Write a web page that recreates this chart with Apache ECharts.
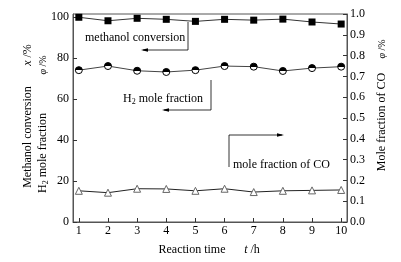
<!DOCTYPE html>
<html lang="en">
<head>
    <meta charset="UTF-8">
    <title>Reaction time</title>
    <script src="https://cdn.jsdelivr.net/npm/echarts@6/dist/echarts.min.js"></script>
    <style>
        html, body { margin: 0; padding: 0; background: #fff; }
    </style>
</head>
<body>
    <div id="main" style="width: 401px; height: 262px;"></div>
    <script>
        // data
        const hours = [1, 2, 3, 4, 5, 6, 7, 8, 9, 10];
        const methanolConversion = [99.9, 98.2, 99.4, 98.9, 97.9, 98.9, 98.5, 99.0, 97.6, 96.6];
        const h2Fraction = [74.1, 76.1, 73.8, 73.2, 74.1, 76.1, 75.8, 73.7, 75.1, 75.8];
        const coFraction = [0.150, 0.141, 0.160, 0.159, 0.150, 0.160, 0.144, 0.150, 0.152, 0.154];
        const leftTicks = [0, 20, 40, 60, 80, 100];

        const font = 'Liberation Serif';
        const pairs = (ys) => hours.map((h, i) => [h, ys[i]]);

        var myChart = echarts.init(document.getElementById('main'));

        // arrow helper for the annotations
        function arrow(points, dir) {
            const end = points[points.length - 1];
            const d = dir === 'left' ? -1 : 1;
            return [
                { type: 'polyline', shape: { points: points }, style: { stroke: '#000', lineWidth: 0.8, fill: null }, silent: true },
                { type: 'polygon', shape: { points: [[end[0] + d * 2, end[1]], [end[0] - d * 5, end[1] - 1.8], [end[0] - d * 5, end[1] + 1.8]] }, style: { fill: '#000' }, silent: true }
            ];
        }

        const txt = { fontFamily: font, fontSize: 12, fill: '#000' };
        // rich styles: normal, italic, subscript
        const rich = {
            a: { fontFamily: font, fontSize: 12, fill: '#000' },
            i: { fontFamily: font, fontSize: 12, fill: '#000', fontStyle: 'italic' },
            si: { fontFamily: font, fontSize: 10, fill: '#000', fontStyle: 'italic' },
            sa: { fontFamily: font, fontSize: 10, fill: '#000' },
            s: { fontFamily: font, fontSize: 8, fill: '#000', padding: [6, 0, 0, 0] }
        };
        function rtext(text, x, y, rot, align) {
            return {
                type: 'text', x: x, y: y, rotation: rot || 0,
                style: { text: text, textAlign: align || 'center', textVerticalAlign: 'middle', rich: rich }
            };
        }

        let option = {
            animation: false,
            grid: { left: 73, right: 54, top: 14, bottom: 40, show: true, borderColor: '#555', borderWidth: 1 },
            xAxis: {
                type: 'value',
                min: 0.8,
                max: 10.2,
                splitLine: { show: false },
                axisLine: { lineStyle: { color: '#555' } },
                axisTick: { inside: true, length: 4, customValues: hours, lineStyle: { color: '#333' } },
                axisLabel: { customValues: hours, color: '#000', fontFamily: font, fontSize: 12, margin: 3 }
            },
            yAxis: [
                {
                    type: 'value',
                    min: 0,
                    max: 101.5,
                    splitLine: { show: false },
                    axisLine: { show: true, lineStyle: { color: '#555' } },
                    axisTick: { inside: true, length: 4, customValues: leftTicks, lineStyle: { color: '#333' } },
                    axisLabel: { customValues: leftTicks, color: '#000', fontFamily: font, fontSize: 12, margin: 4 }
                },
                {
                    type: 'value',
                    min: 0,
                    max: 1,
                    interval: 0.1,
                    position: 'right',
                    splitLine: { show: false },
                    axisLine: { show: true, lineStyle: { color: '#555' } },
                    axisTick: { inside: true, length: 4, lineStyle: { color: '#333' } },
                    axisLabel: { color: '#000', fontFamily: font, fontSize: 12, margin: 3, formatter: (v) => v.toFixed(1) }
                }
            ],
            series: [
                {
                    name: 'methanol conversion',
                    type: 'line',
                    yAxisIndex: 0,
                    data: pairs(methanolConversion),
                    symbol: 'rect',
                    symbolSize: 7,
                    itemStyle: { color: '#000' },
                    lineStyle: { color: '#333', width: 1 }
                },
                {
                    name: 'H2 mole fraction',
                    type: 'line',
                    yAxisIndex: 0,
                    data: pairs(h2Fraction),
                    symbol: 'circle',
                    symbolSize: 7,
                    itemStyle: {
                        color: {
                            type: 'linear', x: 0, y: 0, x2: 0, y2: 1,
                            colorStops: [
                                { offset: 0, color: '#000' }, { offset: 0.5, color: '#000' },
                                { offset: 0.5, color: '#fff' }, { offset: 1, color: '#fff' }
                            ]
                        },
                        borderColor: '#000',
                        borderWidth: 1
                    },
                    lineStyle: { color: '#444', width: 1 }
                },
                {
                    name: 'mole fraction of CO',
                    type: 'line',
                    yAxisIndex: 1,
                    data: pairs(coFraction),
                    symbol: 'triangle',
                    symbolSize: 7,
                    itemStyle: { color: '#fff', borderColor: '#666', borderWidth: 1 },
                    lineStyle: { color: '#222', width: 1 }
                }
            ],
            graphic: [
                // left axis title (two rotated lines)
                rtext('{a|Methanol conversion}', 28, 137, Math.PI / 2),
                rtext('{i|x}{a| /%}', 28, 55, Math.PI / 2),
                rtext('{a|H}{s|2}{a| mole fraction}', 43, 153, Math.PI / 2),
                rtext('{si|φ}{sa| /%}', 43, 65, Math.PI / 2),
                // right axis title
                rtext('{a|Mole fraction of CO}', 382, 122, Math.PI / 2),
                rtext('{si|φ}{sa| /%}', 382, 49, Math.PI / 2),
                // x axis title
                rtext('{a|Reaction time}', 192, 250),
                rtext('{i|t}{a| /h}', 252, 250),
                // annotations
                rtext('{a|methanol conversion}', 85, 38, 0, 'left'),
                ...arrow([[188, 22], [188, 50], [143, 50]], 'left'),
                rtext('{a|H}{s|2}{a| mole fraction}', 123, 99, 0, 'left'),
                ...arrow([[211, 80], [211, 110], [164, 110]], 'left'),
                rtext('{a|mole fraction of CO}', 233, 165, 0, 'left'),
                ...arrow([[229, 167], [229, 135], [282, 135]], 'right')
            ]
        };

        myChart.setOption(option);
    </script>
</body>
</html>
